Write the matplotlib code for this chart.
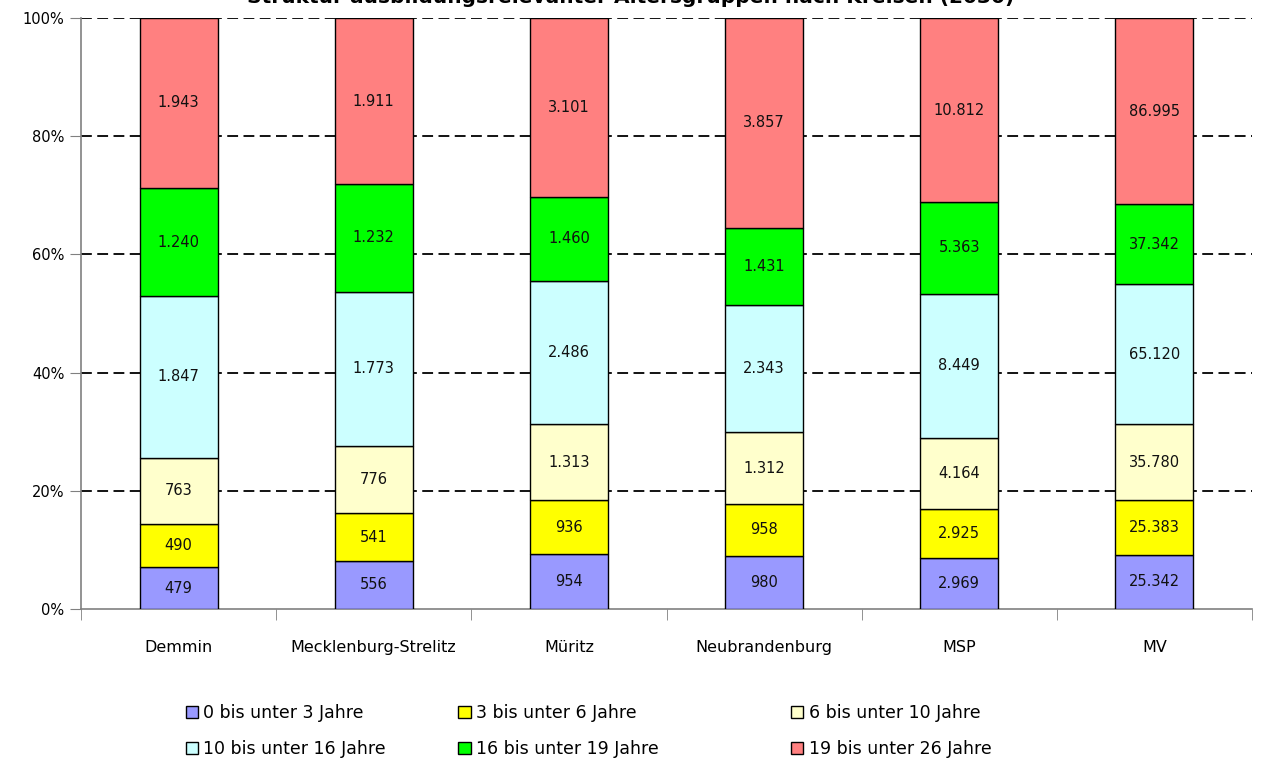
import numpy as np
import matplotlib
matplotlib.use("Agg")
import matplotlib.pyplot as plt
from matplotlib.ticker import FixedLocator, PercentFormatter

regions = ["Demmin", "Mecklenburg-Strelitz", "Müritz", "Neubrandenburg", "MSP", "MV"]
groups = ["0 bis unter 3 Jahre", "3 bis unter 6 Jahre", "6 bis unter 10 Jahre",
          "10 bis unter 16 Jahre", "16 bis unter 19 Jahre", "19 bis unter 26 Jahre"]

age_0_3 = [479, 556, 954, 980, 2969, 25342]
age_3_6 = [490, 541, 936, 958, 2925, 25383]
age_6_10 = [763, 776, 1313, 1312, 4164, 35780]
age_10_16 = [1847, 1773, 2486, 2343, 8449, 65120]
age_16_19 = [1240, 1232, 1460, 1431, 5363, 37342]
age_19_26 = [1943, 1911, 3101, 3857, 10812, 86995]

colors = ["#9999FF", "#FFFF00", "#FFFFCC", "#CCFFFF", "#00FF00", "#FF8080"]

series = np.array([age_0_3, age_3_6, age_6_10, age_10_16, age_16_19, age_19_26], dtype=float)
shares = series / series.sum(axis=0) * 100


def fmt(v):
    # german thousands separator
    return f"{int(v):,}".replace(",", ".")


fig = plt.figure(figsize=(12.61, 7.64), dpi=100)
ax = fig.add_axes([0.0642, 0.2029, 0.9287, 0.7735])

x = np.arange(len(regions))
bottom = np.zeros(len(regions))
handles = []
for i in range(len(groups)):
    b = ax.bar(x, shares[i], 0.4, bottom=bottom, color=colors[i],
               edgecolor="black", linewidth=1.0, zorder=3, label=groups[i])
    handles.append(b)
    for j in range(len(regions)):
        ax.text(x[j], bottom[j] + shares[i][j] / 2, fmt(series[i][j]),
                ha="center", va="center", fontsize=10.5, color="#111111", zorder=4)
    bottom += shares[i]

ax.set_xlim(-0.5, len(regions) - 0.5)
ax.set_ylim(0, 100)
ax.set_yticks([0, 20, 40, 60, 80, 100])
ax.yaxis.set_major_formatter(PercentFormatter(decimals=0))
ax.tick_params(axis="y", labelsize=10.5, length=8, color="#808080", pad=4)

ax.set_xticks(x)
ax.set_xticklabels(regions, fontsize=11.5)
ax.tick_params(axis="x", which="major", length=0, pad=22)
ax.xaxis.set_minor_locator(FixedLocator(np.arange(-0.5, len(regions), 1.0)))
ax.tick_params(axis="x", which="minor", length=8, color="#808080")

for yv in [20, 40, 60, 80, 100]:
    ax.axhline(yv, color="black", linewidth=1.3, linestyle=(0, (6, 3)), zorder=1)

for s in ["top", "right"]:
    ax.spines[s].set_visible(False)
for s in ["left", "bottom"]:
    ax.spines[s].set_color("#808080")
    ax.spines[s].set_linewidth(1.2)

fig.text(0.5, 1.003, "Struktur ausbildungsrelevanter Altersgruppen nach Kreisen (2030)",
         ha="center", va="center", fontsize=14.5, fontweight="bold")

leg_x = [0.142, 0.358, 0.622]
for c in range(3):
    fig.legend([handles[c], handles[c + 3]], [groups[c], groups[c + 3]],
               loc="upper left", bbox_to_anchor=(leg_x[c], 0.088), ncol=1,
               frameon=False, handlelength=0.7, handleheight=0.7,
               handletextpad=0.3, labelspacing=1.05, borderaxespad=0,
               prop={"family": "DejaVu Sans", "size": 12.5})

fig.savefig("out.png", dpi=100)
